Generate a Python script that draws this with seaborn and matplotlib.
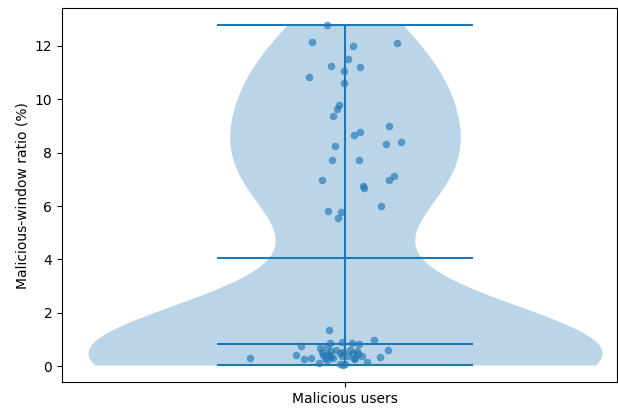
import numpy as np
import pandas as pd
import matplotlib
matplotlib.use("Agg")
import matplotlib.pyplot as plt
import seaborn as sns

category = "Malicious users"
ylabel = "Malicious-window ratio (%)"

# ratio values (%)
ratio_high = [12.76, 12.16, 12.01, 12.10, 11.51, 11.25, 11.21, 11.07, 10.83, 10.61,
              9.79, 9.63, 9.37, 9.01, 8.77, 8.65, 8.26, 8.31, 8.41, 7.74,
              7.71, 6.96, 6.98, 7.11, 6.74, 6.68, 6.02, 5.83, 5.77, 5.56]
jitter_high = [-0.0178, -0.0324, 0.0075, 0.0503, 0.0032, -0.0136, 0.0143, -0.0010, -0.0347, -0.0013,
               -0.0061, -0.0078, -0.0114, 0.0431, 0.0146, 0.0090, -0.0100, 0.0396, 0.0545, -0.0129,
               0.0136, -0.0221, 0.0428, 0.0477, 0.0172, 0.0185, 0.0347, -0.0165, -0.0039, -0.0068]

ratio_low = [0.31, 0.76, 0.41, 0.27, 0.30, 0.11, 0.70, 0.54, 0.89, 0.32,
             0.41, 0.57, 1.35, 0.92, 0.54, 0.07, 0.07, 0.89, 0.39, 0.51,
             0.26, 0.57, 0.84, 0.45, 0.18, 0.97, 0.35, 0.61, 0.41, 0.45,
             0.35, 0.24, 0.51, 0.39, 0.05, 0.72, 0.30, 0.60, 0.62, 0.33, 0.38]
jitter_low = [-0.0929, -0.0428, -0.0480, -0.0399, -0.0331, -0.0250, -0.0243, -0.0227, -0.0146, -0.0195,
              -0.0156, -0.0136, -0.0156, -0.0032, -0.0022, -0.0049, 0.0000, 0.0065, 0.0032, 0.0081,
              0.0090, 0.0114, 0.0136, 0.0129, 0.0217, 0.0285, 0.0340, 0.0421, -0.0211, -0.0162,
              -0.0139, -0.0178, -0.0049, -0.0032, -0.0019, -0.0175, -0.0117, -0.0088, 0.0049, 0.0097, 0.0165]

values = np.array(ratio_high + ratio_low)
jitter = np.array(jitter_high + jitter_low)
df = pd.DataFrame({"ratio": values, "x": jitter})

fig = plt.figure(figsize=(6.18, 4.11), dpi=100)
ax = fig.add_axes([62 / 618, 29 / 411, 555 / 618, 373.5 / 411])

sns.violinplot(data=df, y="ratio", ax=ax, cut=0, inner=None, width=0.5,
               color="C0", saturation=1, linewidth=0, alpha=0.3)

vmin, vmax = values.min(), values.max()
vmean, vmed = values.mean(), np.median(values)
ax.hlines([vmin, vmax, vmean, vmed], -0.125, 0.125, color="C0", linewidth=1.5)
ax.vlines(0, vmin, vmax, color="C0", linewidth=1.5)

sns.scatterplot(data=df, x="x", y="ratio", ax=ax, color="C0", alpha=0.65,
                s=30, linewidth=0, zorder=3)

rng = vmax - vmin
ax.set_ylim(vmin - 0.05 * rng, vmax + 0.05 * rng)
ax.set_xlim(-0.2753, 0.2646)
ax.set_xticks([0])
ax.set_xticklabels([category])
ax.set_xlabel("")
ax.set_ylabel(ylabel)
ax.set_yticks([0, 2, 4, 6, 8, 10, 12])
for s in ax.spines.values():
    s.set_visible(True)

fig.savefig("out.png", dpi=100)
